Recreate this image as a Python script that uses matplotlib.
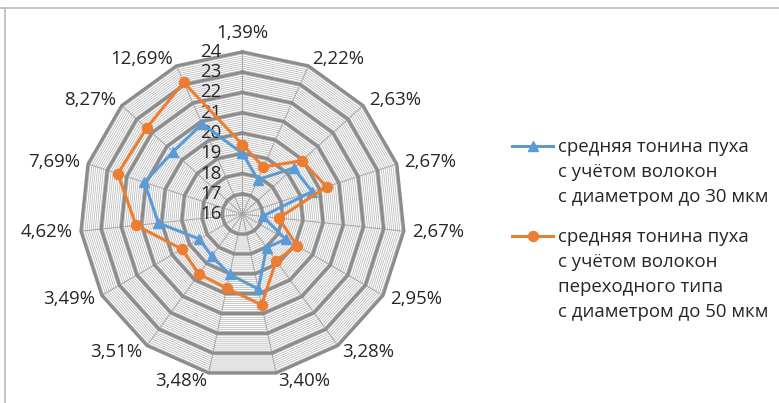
import numpy as np
import matplotlib
matplotlib.use("Agg")
import matplotlib.pyplot as plt
from matplotlib.lines import Line2D

plt.rcParams["font.family"] = ["Open Sans", "DejaVu Sans"]

# Share of fibres per sample (category axis)
categories = ["1,39%", "2,22%", "2,63%", "2,67%", "2,67%", "2,95%", "3,28%",
              "3,40%", "3,48%", "3,51%", "3,49%", "4,62%", "7,69%", "8,27%",
              "12,69%"]

# Mean down fineness, fibres up to 30 µm
fine_30 = [19.00, 17.87, 19.39, 19.62, 17.00, 18.47, 18.03, 19.77, 19.03,
           18.56, 18.45, 20.16, 21.08, 20.60, 20.88]

# Mean down fineness, transitional fibres up to 50 µm
fine_50 = [19.43, 18.55, 19.94, 20.37, 17.80, 19.10, 18.83, 20.57, 19.73,
           19.65, 19.44, 21.27, 22.46, 22.35, 23.12]

r_ticks = [16, 17, 18, 19, 20, 21, 22, 23, 24]

legend_labels = [
    "средняя тонина пуха\nс учётом волокон\nс диаметром до 30 мкм",
    "средняя тонина пуха\nс учётом волокон\nпереходного типа\nс диаметром до 50 мкм",
]

BLUE = "#5B9BD5"
ORANGE = "#ED7D31"
TEXT = "#262626"
W, H = 779, 403

fig = plt.figure(figsize=(W / 100, H / 100), dpi=100)
cx, cy, R = 242.4, 214.2, 162.3
ax = fig.add_axes([(cx - R) / W, (H - cy - R) / H, 2 * R / W, 2 * R / H],
                  projection="polar")
ax.set_theta_zero_location("N")
ax.set_theta_direction(-1)
ax.set_ylim(r_ticks[0], r_ticks[-1])
ax.grid(False)
ax.set_xticks([])
ax.set_yticks([])
ax.spines["polar"].set_visible(False)
ax.patch.set_alpha(0)

n = len(categories)
theta = np.linspace(0, 2 * np.pi, n, endpoint=False)
theta_c = np.append(theta, theta[0])

# polygonal grid: minor rings every 0.1, major rings every 1
lo, hi = r_ticks[0], r_ticks[-1]
minor_levels = [lo + k / 10 for k in range(1, (hi - lo) * 10) if k % 10 != 0]
for lev in minor_levels:
    ax.plot(theta_c, [lev] * (n + 1), color="#b8b8b8", lw=0.55, zorder=1,
            clip_on=False)
for t in theta:
    ax.plot([t, t], [lo, hi], color="#a6a6a6", lw=0.7, zorder=1.5, clip_on=False)
for lev in r_ticks[1:]:
    ax.plot(theta_c, [lev] * (n + 1), color="#8c8c8c", lw=2.4, zorder=2,
            solid_joinstyle="miter", clip_on=False)

# data series
v30 = np.append(fine_30, fine_30[0])
v50 = np.append(fine_50, fine_50[0])
ax.plot(theta_c, v30, color=BLUE, lw=2.2, marker="^", ms=7.5, zorder=5,
        clip_on=False)
ax.plot(theta_c, v50, color=ORANGE, lw=2.2, marker="o", ms=7.2, zorder=6,
        clip_on=False)

fs = 13.4
# radial value labels
for v in r_ticks:
    ax.annotate(str(v), xy=(0, v), xytext=(-21, 0), textcoords="offset pixels",
                ha="right", va="center", fontsize=fs, color=TEXT,
                annotation_clip=False)

# category labels around the outer ring
for i, (t, lab) in enumerate(zip(theta, categories)):
    s, c = np.sin(t), np.cos(t)
    d = 19 if i == 0 else 8
    if abs(s) < 0.05:
        ha = "center"
    elif s > 0:
        ha = "left"
    else:
        ha = "right"
    ax.annotate(lab, xy=(t, hi), xytext=(d * s, d * c), textcoords="offset pixels",
                ha=ha, va="center", fontsize=fs, color=TEXT,
                annotation_clip=False)

# legend
def fx(px):
    return px / W

def fy(py):
    return 1 - py / H

entries = [(BLUE, "^", 7.5, 145.5, 151.7), (ORANGE, "o", 7.2, 235.5, 241.7)]
for (col, mk, ms, ym, yb), lab in zip(entries, legend_labels):
    fig.add_artist(Line2D([fx(511.7), fx(553.3)], [fy(ym)] * 2, color=col,
                          lw=2.2, transform=fig.transFigure))
    fig.add_artist(Line2D([fx(532.5)], [fy(ym)], color=col, marker=mk, ms=ms,
                          transform=fig.transFigure))
    for k, line in enumerate(lab.split("\n")):
        fig.text(fx(558.3), fy(yb + 25.2 * k), line, ha="left", va="baseline",
                 fontsize=fs, color=TEXT)

# chart frame (top and left edges)
fig.add_artist(Line2D([0, 1], [fy(8.3)] * 2, color="#bfbfbf", lw=1.3,
                      transform=fig.transFigure))
fig.add_artist(Line2D([fx(5.2)] * 2, [0, fy(8.3)], color="#bfbfbf", lw=1.3,
                      transform=fig.transFigure))

fig.savefig("out.png", dpi=100)
